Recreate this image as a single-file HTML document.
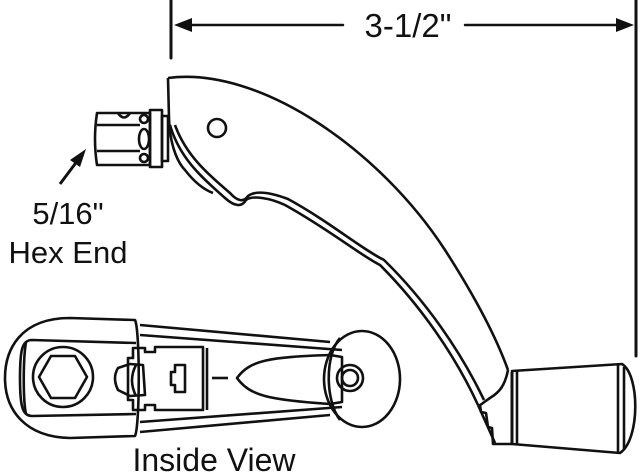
<!DOCTYPE html>
<html><head><style>html,body{margin:0;padding:0;background:#fff}svg{display:block}</style></head>
<body>
<svg width="640" height="473" viewBox="0 0 640 473" xmlns="http://www.w3.org/2000/svg" font-family="Liberation Sans, sans-serif">
<g stroke="#111" fill="none" stroke-width="3" stroke-linejoin="round" stroke-linecap="round">
<line x1="171" y1="0" x2="171" y2="58" stroke-width="3"/>
<line x1="636" y1="0" x2="636" y2="356" stroke-width="3"/>
<line x1="185" y1="25" x2="343" y2="25" stroke-width="2.5"/>
<line x1="465" y1="25" x2="622" y2="25" stroke-width="2.5"/>
</g>
<polygon points="174,25 192,18 192,32" fill="#111"/>
<polygon points="634,25 616,18 616,32" fill="#111"/>
<text x="408" y="37" font-size="33" text-anchor="middle" fill="#111">3-1/2"</text>

<g stroke="#111" fill="none" stroke-width="2.6" stroke-linejoin="round">
<path d="M168,78 C260,66 380,150 445,250 Q490,320 508,370"/>
<path d="M168,78 L169,118 C170,150 180,165 185,170 C195,183 205,190 213,193"/>
<path d="M170,125 C180,160 205,180 225,198 C235,207 242,207 246,200 C252,195 270,198 285,205 C330,230 360,255 380,265 C420,305 455,355 478,405"/>
<path d="M175,125 C186,156 210,176 230,193 C238,202 244,202 248,196 C256,190 272,193 288,199 C330,222 360,248 384,260 C425,300 460,350 484,400"/>
<path d="M508,370 C505,385 500,392 490,398 C484,402 482,404 480,405 L481,412 L486,413 L488,427 L492,428 L493,444 L512,444"/>
<path d="M478,405 L495,443"/>
<path d="M512,371 L622,364 C640,375 640,440 620,453 L512,444 Z"/>
<line x1="512" y1="372" x2="512" y2="444" stroke-width="3"/>
<line x1="517" y1="371" x2="517" y2="444"/>
<line x1="618" y1="365" x2="618" y2="452"/>
<line x1="624" y1="367" x2="624" y2="450"/>
<circle cx="217" cy="128" r="9"/>
<path d="M97,113 L150,113 L150,165 L97,165 Q93,139 97,113 Z"/>
<line x1="97" y1="125" x2="140" y2="125"/>
<line x1="97" y1="151" x2="140" y2="151"/>
<path d="M118,113 Q124,122 130,113"/>
<ellipse cx="144" cy="139" rx="5" ry="10"/>
<circle cx="144" cy="119" r="4"/>
<circle cx="144" cy="158" r="4"/>
<rect x="150" y="110" width="12" height="57"/>
<rect x="162" y="116" width="6" height="45"/>
<line x1="60" y1="184" x2="78" y2="160" stroke-width="3"/>
</g>
<polygon points="86,149 70,160 80,167" fill="#111"/>
<text x="68" y="224" font-size="31" text-anchor="middle" fill="#111">5/16"</text>
<text x="68" y="263" font-size="31" text-anchor="middle" fill="#111">Hex End</text>

<g stroke="#111" fill="none" stroke-width="2.6" stroke-linejoin="round">
<path d="M135,320 L70,318 C20,318 5,350 5,378 C5,410 25,437 70,438 L135,436 C140,425 140,330 135,320 Z"/>
<path d="M136,343 L32,340 C22,340 20,350 20,378 C20,405 22,416 32,416 L136,414"/>
<path d="M26,342 C23,360 23,400 26,414"/>
<circle cx="63" cy="377" r="30"/>
<polygon points="51,356 75,356 87,377 75,398 51,398 39,377"/>
<path d="M140,325 L330,342 M140,432 L330,415"/>
<path d="M140,335 L342,350 M140,422 L342,407"/>
<ellipse cx="362" cy="379" rx="38" ry="48"/>
<path d="M340,338 C325,355 325,400 340,420"/>
<circle cx="350" cy="378" r="13"/>
<circle cx="350" cy="378" r="8"/>
<path d="M133,348 L145,348 L145,352 L155,352 L155,347 L203,347 L203,410 L155,410 L155,405 L145,405 L145,410 L133,410 L133,400 L128,400 L128,358 L133,358 Z"/>
<path d="M175,365 L185,365 L185,392 L175,392 L175,385 L171,385 L171,372 L175,372 Z"/>
<path d="M118,368 L130,364 L143,365 L145,395 L130,396 L118,390 Q112,378 118,368 Z"/>
<path d="M136,365 Q128,380 136,396"/>
<line x1="207" y1="348" x2="207" y2="410"/>
<line x1="212" y1="378" x2="228" y2="378"/>
<path d="M237,378 C250,360 270,357 330,355 L342,357 L342,402 L330,404 C270,400 250,396 237,378 Z"/>
</g>
<text x="214" y="471" font-size="32" text-anchor="middle" fill="#111">Inside View</text>
</svg>
</body></html>
